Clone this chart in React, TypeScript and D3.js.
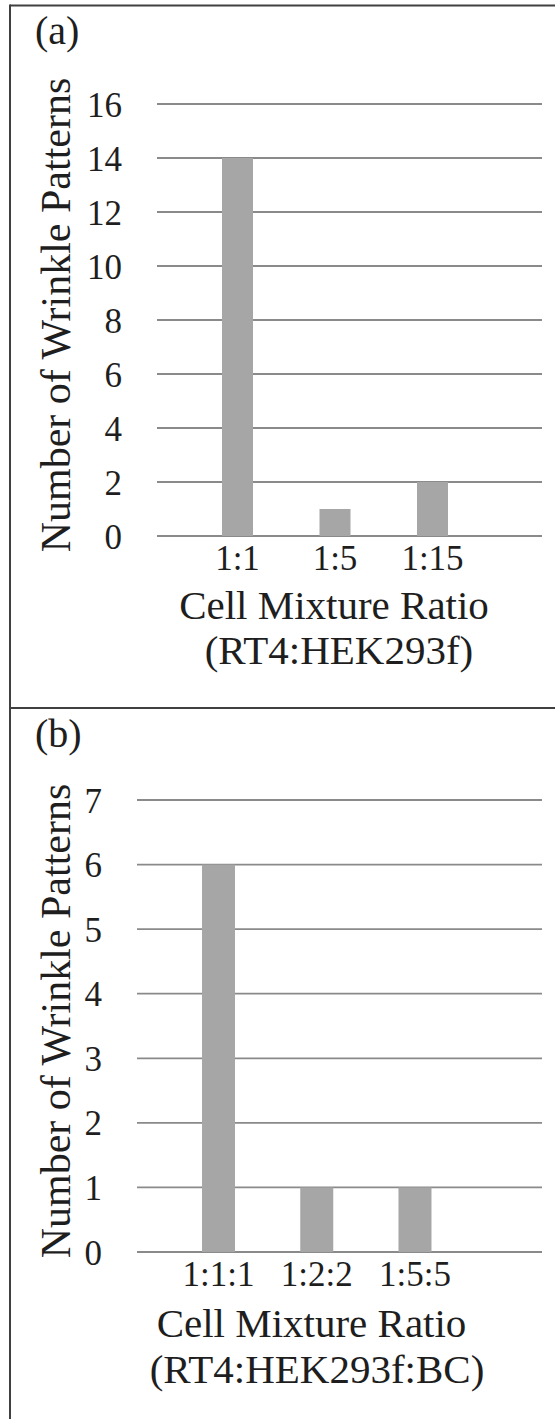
import React from "react";
import * as d3 from "d3";

// ---- data ----
const categoriesA = ["1:1", "1:5", "1:15"];
const valuesA = [14, 1, 2];
const ticksA = [0, 2, 4, 6, 8, 10, 12, 14, 16];

const categoriesB = ["1:1:1", "1:2:2", "1:5:5"];
const valuesB = [6, 1, 1];
const ticksB = [0, 1, 2, 3, 4, 5, 6, 7];

const yTitle = "Number of Wrinkle Patterns";
const xTitleLine1 = "Cell Mixture Ratio";
const xTitleA = "(RT4:HEK293f)";
const xTitleB = "(RT4:HEK293f:BC)";

const FONT = "Times, Liberation Serif, Tinos, FreeSerif";
const TEXT = "#1e1e1e";
const GRID = "#8a8a8a";
const BAR = "#a6a6a6";
const BORDER = "#404040";

type PanelProps = {
  label: string;
  categories: string[];
  values: number[];
  ticks: number[];
  yMax: number;
  yRange: [number, number];
  xRange: [number, number];
  gridX: [number, number];
  barW: number;
  tickX: number;
  labelY: number;
  catY: number;
  title1: { x: number; y: number };
  title2: { x: number; y: number; text: string };
  yTitleCenter: number;
};

function Panel(p: PanelProps) {
  const y = d3.scaleLinear().domain([0, p.yMax]).range(p.yRange);
  const x = d3.scaleBand<string>().domain(p.categories).range(p.xRange).padding(0);
  const cx = (c: string) => (x(c) as number) + x.bandwidth() / 2;
  return (
    <g>
      <text fontFamily={FONT} fill={TEXT} x={35} y={p.labelY} fontSize={40}>{p.label}</text>
      {p.ticks.map((t) => (
        <g key={t}>
          <line x1={p.gridX[0]} x2={p.gridX[1]} y1={y(t)} y2={y(t)} stroke={GRID} strokeWidth={1.8} />
          <text fontFamily={FONT} fill={TEXT} x={p.tickX} y={y(t) + 12.5} fontSize={35} textAnchor="end">{t}</text>
        </g>
      ))}
      {p.categories.map((c, i) => (
        <rect key={c} x={cx(c) - p.barW / 2} y={y(p.values[i])} width={p.barW}
          height={y(0) - y(p.values[i])} fill={BAR} />
      ))}
      {p.categories.map((c) => (
        <text fontFamily={FONT} fill={TEXT} key={c} x={cx(c)} y={p.catY} fontSize={35} textAnchor="middle">{c}</text>
      ))}
      <text fontFamily={FONT} fill={TEXT} x={p.title1.x} y={p.title1.y} fontSize={41} textAnchor="middle">{xTitleLine1}</text>
      <text fontFamily={FONT} fill={TEXT} x={p.title2.x} y={p.title2.y} fontSize={41} textAnchor="middle">{p.title2.text}</text>
      <text fontFamily={FONT} fill={TEXT} transform={`translate(70,${p.yTitleCenter}) rotate(-90)`} fontSize={42} textAnchor="middle">{yTitle}</text>
    </g>
  );
}

export default function App() {
  return (
    <svg width={555} height={1419} fontFamily={FONT} style={{ position: "absolute", left: 0, top: 0, background: "#fff" }}>
      <rect x={0} y={0} width={555} height={1419} fill="#fff" />
      {/* frame */}
      <line x1={10} x2={555} y1={5.5} y2={5.5} stroke={BORDER} strokeWidth={2} />
      <line x1={10} x2={555} y1={708} y2={708} stroke={BORDER} strokeWidth={2} />
      <line x1={10} x2={10} y1={4.5} y2={1419} stroke={BORDER} strokeWidth={2} />
      <Panel
        label="(a)"
        categories={categoriesA}
        values={valuesA}
        ticks={ticksA}
        yMax={16}
        yRange={[536, 104]}
        xRange={[188.75, 481.25]}
        gridX={[157, 542]}
        barW={31}
        tickX={122}
        labelY={44}
        catY={570}
        title1={{ x: 334, y: 619 }}
        title2={{ x: 339, y: 664, text: xTitleA }}
        yTitleCenter={315}
      />
      <Panel
        label="(b)"
        categories={categoriesB}
        values={valuesB}
        ticks={ticksB}
        yMax={7}
        yRange={[1252, 800]}
        xRange={[169.4, 464.1]}
        gridX={[137, 542]}
        barW={33}
        tickX={102}
        labelY={747}
        catY={1286}
        title1={{ x: 311.5, y: 1337 }}
        title2={{ x: 317, y: 1383, text: xTitleB }}
        yTitleCenter={1021}
      />
    </svg>
  );
}
